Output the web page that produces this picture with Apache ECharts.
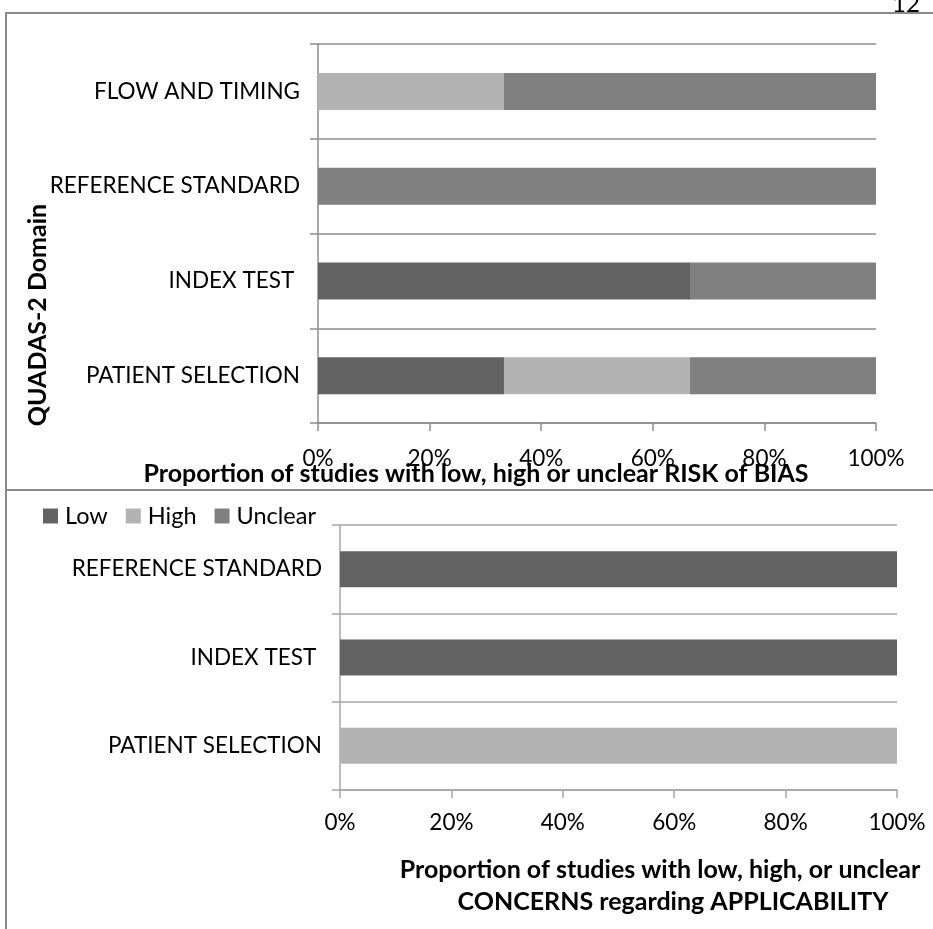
<!DOCTYPE html>
<html>
<head>
<meta charset="utf-8">
<script src="https://cdn.jsdelivr.net/npm/echarts@6/dist/echarts.min.js"></script>
<style>
  html, body { margin: 0; padding: 0; background: #fff; }
  #chart { width: 933px; height: 929px; }
</style>
</head>
<body>
<div id="chart"></div>
<script>
// risk of bias (top panel), bottom to top
var biasDomains = ['PATIENT SELECTION', 'INDEX TEST ', 'REFERENCE STANDARD', 'FLOW AND TIMING']
var biasLow = [33.33, 66.67, 0, 0]
var biasHigh = [33.33, 0, 0, 33.33]
var biasUnclear = [33.34, 33.33, 100, 66.67]

// applicability concerns (bottom panel)
var applDomains = ['PATIENT SELECTION', 'INDEX TEST ', 'REFERENCE STANDARD']
var applLow = [0, 100, 100]
var applHigh = [100, 0, 0]
var applUnclear = [0, 0, 0]

var pctTicks = [0, 20, 40, 60, 80, 100]

var font = 'Lato, "Open Sans", sans-serif'
var colors = { Low: '#626262', High: '#b3b3b3', Unclear: '#808080' }

function xAxisFor(gridIndex, lineColor, margin) {
  return {
    type: 'value',
    gridIndex: gridIndex,
    min: pctTicks[0],
    max: pctTicks[pctTicks.length - 1],
    interval: pctTicks[1] - pctTicks[0],
    axisLine: { show: true, lineStyle: { color: lineColor, width: 1.5 } },
    axisTick: { show: true, length: 8, lineStyle: { color: lineColor, width: 1.5 } },
    splitLine: { show: false },
    axisLabel: {
      formatter: '{value}%',
      margin: margin,
      color: '#000',
      fontFamily: font,
      fontSize: 22.5
    }
  }
}

function yAxisFor(gridIndex, data, lineColor) {
  return {
    type: 'category',
    gridIndex: gridIndex,
    data: data,
    axisLine: { show: true, lineStyle: { color: lineColor, width: 1.5 } },
    axisTick: { show: true, length: 8, lineStyle: { color: lineColor, width: 1.5 } },
    splitLine: { show: true, lineStyle: { color: lineColor, width: 1.5 } },
    axisLabel: {
      margin: 18,
      color: '#000',
      fontFamily: font,
      fontSize: 22.5
    }
  }
}

function bar(name, data, idx, width) {
  return {
    name: name,
    type: 'bar',
    stack: 'total' + idx,
    xAxisIndex: idx,
    yAxisIndex: idx,
    barWidth: width,
    data: data,
    itemStyle: { color: colors[name] },
    silent: true
  }
}

var titleFont = 'bold 25px ' + font

var chart = echarts.init(document.getElementById('chart'))
chart.setOption({
  animation: false,
  backgroundColor: '#fff',
  legend: {
    data: ['Low', 'High', 'Unclear'],
    left: 38,
    top: 499,
    icon: 'rect',
    itemWidth: 15,
    itemHeight: 15,
    itemGap: 18,
    textStyle: { fontFamily: font, fontSize: 23.5, color: '#000', padding: [0, 0, 0, 2] }
  },
  grid: [
    { left: 318, right: 57, top: 44, height: 379 },
    { left: 340, right: 36, top: 525, height: 265 }
  ],
  xAxis: [xAxisFor(0, '#8c8c8c', 24), xAxisFor(1, '#a6a6a6', 21)],
  yAxis: [yAxisFor(0, biasDomains, '#8c8c8c'), yAxisFor(1, applDomains, '#a6a6a6')],
  series: [
    bar('Low', biasLow, 0, 37),
    bar('High', biasHigh, 0, 37),
    bar('Unclear', biasUnclear, 0, 37),
    bar('Low', applLow, 1, 36),
    bar('High', applHigh, 1, 36),
    bar('Unclear', applUnclear, 1, 36)
  ],
  graphic: [
    // page frame
    { type: 'text', x: 906, y: 4, style: { text: '12', font: '24px ' + font, fill: '#000', textAlign: 'center', textVerticalAlign: 'middle' } },
    { type: 'line', shape: { x1: 5, y1: 13, x2: 933, y2: 13 }, style: { stroke: '#8a8a8a', lineWidth: 2 } },
    { type: 'line', shape: { x1: 6, y1: 13, x2: 6, y2: 929 }, style: { stroke: '#8a8a8a', lineWidth: 2 } },
    { type: 'line', shape: { x1: 6, y1: 490, x2: 933, y2: 490 }, style: { stroke: '#8a8a8a', lineWidth: 2 } },
    // axis titles
    { type: 'text', x: 38, y: 315, rotation: Math.PI / 2, style: { text: 'QUADAS-2 Domain', font: titleFont, fill: '#000', textAlign: 'center', textVerticalAlign: 'middle' } },
    { type: 'text', x: 476, y: 474, style: { text: 'Proportion of studies with low, high or unclear RISK of BIAS', font: titleFont, fill: '#000', textAlign: 'center', textVerticalAlign: 'middle' } },
    { type: 'text', x: 660, y: 870, style: { text: 'Proportion of studies with low, high, or unclear', font: titleFont, fill: '#000', textAlign: 'center', textVerticalAlign: 'middle' } },
    { type: 'text', x: 673, y: 902, style: { text: 'CONCERNS regarding APPLICABILITY', font: titleFont, fill: '#000', textAlign: 'center', textVerticalAlign: 'middle' } }
  ]
})
</script>
</body>
</html>
